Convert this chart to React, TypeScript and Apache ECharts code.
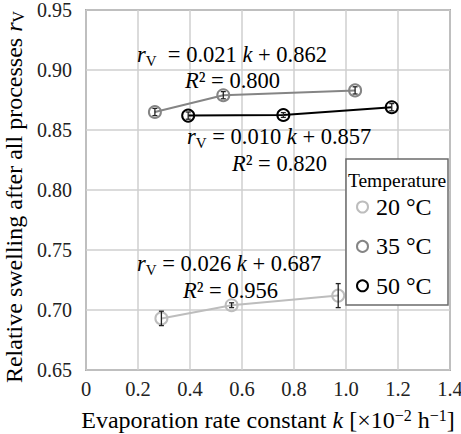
import React, { useEffect, useRef } from "react";
import * as echarts from "echarts";

const FONT = "Liberation Serif";

const temperatures = ["20 °C", "35 °C", "50 °C"];
const colors = ["#bdbdbd", "#858585", "#000000"];

const k20 = [0.29, 0.56, 0.97];
const r20 = [0.693, 0.704, 0.712];
const e20 = [0.006, 0.002, 0.01];

const k35 = [0.265, 0.528, 1.035];
const r35 = [0.865, 0.879, 0.883];
const e35 = [0.003, 0.003, 0.003];

const k50 = [0.393, 0.759, 1.176];
const r50 = [0.862, 0.8625, 0.869];
const e50 = [0.003, 0.002, 0.003];

const xTicks = { min: 0, max: 1.4, interval: 0.2 };
const yTicks = { min: 0.65, max: 0.95, interval: 0.05 };

const fits = [
  { eq: ["0.021", "0.862"], r2: "0.800", wide: true },
  { eq: ["0.010", "0.857"], r2: "0.820", wide: false },
  { eq: ["0.026", "0.687"], r2: "0.956", wide: false },
];

const ks = [k20, k35, k50];
const rs = [r20, r35, r50];
const es = [e20, e35, e50];

const richAnno = {
  n: { fontSize: 22.5, lineHeight: 28, fontFamily: FONT, color: "#000", verticalAlign: "middle" },
  i: { fontSize: 22.5, lineHeight: 28, fontFamily: FONT, fontStyle: "italic", color: "#000", verticalAlign: "middle" },
  s: { fontSize: 15, lineHeight: 15, fontFamily: FONT, color: "#000", verticalAlign: "bottom" },
};

export default function App() {
  const ref = useRef<HTMLDivElement>(null);
  useEffect(() => {
    if (!ref.current) return;
    const chart = echarts.init(ref.current, undefined, { renderer: "svg" });

    const lineSeries = temperatures.map((t, idx) => ({
      name: t,
      type: "line",
      data: ks[idx].map((k, j) => [k, rs[idx][j]]),
      symbol: "circle",
      symbolSize: 12,
      z: 3,
      lineStyle: { color: colors[idx], width: 2 },
      itemStyle: { color: "rgba(255,255,255,0)", borderColor: colors[idx], borderWidth: 2 },
      emphasis: { disabled: true },
    }));

    const errSeries = temperatures.map((t, idx) => ({
      name: t + " error",
      type: "custom",
      z: 5,
      data: ks[idx].map((k, j) => [k, rs[idx][j] - es[idx][j], rs[idx][j] + es[idx][j]]),
      encode: { x: 0, y: [1, 2] },
      renderItem: (params: any, api: any) => {
        const lo = api.coord([api.value(0), api.value(1)]);
        const hi = api.coord([api.value(0), api.value(2)]);
        const style = { stroke: "#222", lineWidth: 1.3 };
        const w = 2.5;
        return {
          type: "group",
          children: [
            { type: "line", shape: { x1: lo[0], y1: lo[1], x2: hi[0], y2: hi[1] }, style },
            { type: "line", shape: { x1: lo[0] - w, y1: lo[1], x2: lo[0] + w, y2: lo[1] }, style },
            { type: "line", shape: { x1: hi[0] - w, y1: hi[1], x2: hi[0] + w, y2: hi[1] }, style },
          ],
        };
      },
    }));

    const annoPos = [
      { x1: 137, y1: 54, x2: 185, y2: 80 },
      { x1: 187, y1: 136.5, x2: 232, y2: 163 },
      { x1: 137, y1: 263.5, x2: 183, y2: 290 },
    ];

    const annoGraphics: any[] = [];
    fits.forEach((f, idx) => {
      const p = annoPos[idx];
      annoGraphics.push({
        type: "text",
        x: p.x1,
        y: p.y1,
        z: 10,
        style: {
          text: `{i|r}{s|V}{n|${f.wide ? "  " : " "}= ${f.eq[0]} }{i|k}{n| + ${f.eq[1]}}`,
          rich: richAnno,
          fontSize: 22.5,
          fontFamily: FONT,
          lineHeight: 28,
          textAlign: "left",
          textVerticalAlign: "middle",
          fill: "#000",
        },
      });
      annoGraphics.push({
        type: "text",
        x: p.x2,
        y: p.y2,
        z: 10,
        style: {
          text: `{i|R}{n|² = ${f.r2}}`,
          rich: richAnno,
          fontSize: 22.5,
          fontFamily: FONT,
          lineHeight: 28,
          textAlign: "left",
          textVerticalAlign: "middle",
          fill: "#000",
        },
      });
    });

    const option: any = {
      animation: false,
      grid: {
        left: 86,
        right: 11,
        top: 10,
        bottom: 64,
        outerBoundsMode: "none",
        containLabel: false,
        show: true,
        borderColor: "#6b6b6b",
        borderWidth: 1.5,
        backgroundColor: "rgba(0,0,0,0)",
      },
      xAxis: {
        type: "value",
        min: xTicks.min,
        max: xTicks.max,
        interval: xTicks.interval,
        axisLine: { show: false },
        axisTick: { show: false },
        splitLine: { show: true, lineStyle: { color: "#cfcfcf", width: 1.5 } },
        axisLabel: {
          fontSize: 20.5,
          fontFamily: FONT,
          color: "#222",
          margin: 8,
          formatter: (v: number) => (v === 0 ? "0" : v.toFixed(1)),
        },
        name: "{n|Evaporation rate constant }{i|k}{n| [×10}{sup|−2}{n| h}{sup|−1}{n|]}",
        nameLocation: "middle",
        nameGap: 37,
        nameTextStyle: {
          fontFamily: FONT,
          fontSize: 24,
          rich: {
            n: { fontSize: 24, lineHeight: 26, fontFamily: FONT, color: "#000" },
            i: { fontSize: 24, lineHeight: 26, fontFamily: FONT, fontStyle: "italic", color: "#000" },
            sup: { fontSize: 16, lineHeight: 16, fontFamily: FONT, color: "#000", verticalAlign: "top" },
          },
        },
      },
      yAxis: {
        type: "value",
        min: yTicks.min,
        max: yTicks.max,
        interval: yTicks.interval,
        axisLine: { show: false },
        axisTick: { show: false },
        splitLine: { show: true, lineStyle: { color: "#cfcfcf", width: 1.5 } },
        axisLabel: {
          fontSize: 20,
          fontFamily: FONT,
          color: "#222",
          margin: 14,
          formatter: (v: number) => v.toFixed(2),
        },
        name: "{n|Relative swelling after all processes }{i|r}{s|V}",
        nameLocation: "middle",
        nameGap: 49,
        nameTextStyle: {
          fontFamily: FONT,
          fontSize: 24,
          padding: [0, 14, 0, 0],
          rich: {
            n: { fontSize: 24, lineHeight: 24, fontFamily: FONT, color: "#000" },
            i: { fontSize: 24, lineHeight: 24, fontFamily: FONT, fontStyle: "italic", color: "#000" },
            s: { fontSize: 16, lineHeight: 16, fontFamily: FONT, color: "#000", verticalAlign: "bottom" },
          },
        },
      },
      legend: {
        orient: "vertical",
        left: 356,
        top: 195,
        padding: 0,
        itemGap: 15.4,
        itemWidth: 11,
        itemHeight: 11,
        icon: "circle",
        selectedMode: false,
        textStyle: { fontSize: 24, lineHeight: 24, fontFamily: FONT, color: "#000", padding: [0, 0, 0, 3] },
        data: temperatures.map((t, idx) => ({
          name: t,
          icon: "circle",
          itemStyle: { color: "#fff", borderColor: colors[idx], borderWidth: 2 },
        })),
        z: 20,
      },
      graphic: [
        {
          type: "rect",
          z: 15,
          shape: { x: 346, y: 159, width: 102, height: 146 },
          style: { fill: "#fff", stroke: "#6b6b6b", lineWidth: 1.5 },
        },
        {
          type: "text",
          z: 16,
          x: 397,
          y: 180,
          style: {
            text: "Temperature",
            fontSize: 19.5,
            fontFamily: FONT,
            fill: "#000",
            textAlign: "center",
            textVerticalAlign: "middle",
          },
        },
        ...annoGraphics,
      ],
      series: [...lineSeries, ...errSeries],
    };

    chart.setOption(option);
    return () => chart.dispose();
  }, []);

  return (
    <div
      ref={ref}
      style={{ position: "fixed", left: 0, top: 0, width: 461, height: 434, background: "#fff" }}
    />
  );
}
